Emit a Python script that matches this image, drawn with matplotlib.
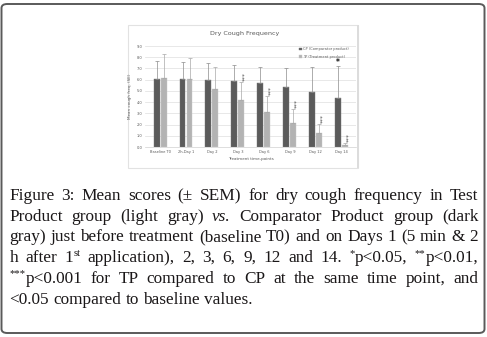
import re
import numpy as np
import matplotlib
matplotlib.use("Agg")
import matplotlib.pyplot as plt
from matplotlib.patches import Rectangle, FancyBboxPatch

# ---------------- data ----------------
categories = ["Baseline T0", "2h-Day 1", "Day 2", "Day 3", "Day 6", "Day 9", "Day 12", "Day 14"]
cp_mean = [6.09, 6.03, 6.00, 5.91, 5.67, 5.32, 4.93, 4.40]
cp_sem = [1.54, 1.51, 1.45, 1.37, 1.49, 1.75, 2.23, 2.82]
tp_mean = [6.18, 6.03, 5.14, 4.16, 3.15, 2.11, 1.28, 0.15]
tp_sem = [2.11, 1.93, 1.96, 1.63, 1.42, 1.28, 0.74, 0.21]
tp_sig = ["", "", "", "***", "***", "***", "***", "***"]
cp_sig = ["", "", "", "", "", "", "", "*"]
y_ticks = [0, 1, 2, 3, 4, 5, 6, 7, 8, 9]
series_labels = ["CP (Comparator product)", "TP (Treatment product)"]
chart_title = "Dry Cough Frequency"
x_label = "Treatment time-points"
y_label = "Mean cough freq. (SE)"

caption_lines = [
    "Figure 3: Mean scores (± SEM) for dry cough frequency in Test",
    "Product group (light gray) _i{vs.} Comparator Product group (dark",
    "gray) just before treatment (baseline T0) and on Days 1 (5 min & 2",
    "h after 1^{st} application), 2, 3, 6, 9, 12 and 14. ^{*}p<0.05, ^{**}p<0.01,",
    "^{***}p<0.001 for TP compared to CP at the same time point, and",
    "<0.05 compared to baseline values.",
]

W, H = 487, 337
fig = plt.figure(figsize=(W / 100, H / 100), dpi=100)
fig.patch.set_facecolor("white")

def fx(x):
    return x / W

def fy(y):
    return 1 - y / H

# outer rounded frame
frame = FancyBboxPatch((fx(1.5), fy(333)), fx(483), (329) / H,
                       boxstyle="round,pad=0,rounding_size=0.012",
                       transform=fig.transFigure, fill=False,
                       edgecolor="#5a5a5a", linewidth=1.4, zorder=-5)
fig.add_artist(frame)

# chart picture panel
panel = Rectangle((fx(128), fy(168)), fx(230), 143 / H, transform=fig.transFigure,
                  facecolor="white", edgecolor="#e2e2e2", linewidth=0.8, zorder=-10)
fig.add_artist(panel)
fig.add_artist(Rectangle((fx(357), fy(168)), fx(2), 143 / H, transform=fig.transFigure,
                         facecolor="#dcdcdc", edgecolor="none", zorder=-9))

# ---------------- chart ----------------
ax = fig.add_axes([fx(145), fy(147), 211 / W, 101 / H])
ax.set_zorder(1)
ax.set_facecolor("white")
x = np.arange(len(categories))
bw = 0.23
off = 0.135
dark = "#5b5b5b"
light = "#b3b3b3"
b1 = ax.bar(x - off, cp_mean, bw, color=dark, edgecolor="#777777", linewidth=0.3,
            label=series_labels[0], zorder=3)
b2 = ax.bar(x + off, tp_mean, bw, color=light, edgecolor="#c8c8c8", linewidth=0.3,
            label=series_labels[1], zorder=3)
ax.errorbar(x - off, cp_mean, yerr=[np.zeros(len(x)), cp_sem], fmt="none",
            ecolor="#8c8c8c", elinewidth=0.5, capsize=1.2, capthick=0.5, zorder=4)
ax.errorbar(x + off, tp_mean, yerr=[np.zeros(len(x)), tp_sem], fmt="none",
            ecolor="#a8a8a8", elinewidth=0.5, capsize=1.2, capthick=0.5, zorder=4)
for i in range(len(x)):
    if tp_sig[i]:
        ax.text(x[i] + off + 0.13, tp_mean[i] + tp_sem[i] + 0.1, tp_sig[i], rotation=90,
                ha="center", va="bottom", fontsize=4.2, color="#4a4a4a")
    if cp_sig[i]:
        ax.text(x[i] - off, cp_mean[i] + cp_sem[i] - 0.1, cp_sig[i],
                ha="center", va="bottom", fontsize=5.5, fontweight="bold", color="#111111")

ax.set_xlim(-0.58, 7.55)
ax.set_ylim(0, 9)
ax.set_yticks(y_ticks)
ax.set_yticklabels([f"{v:.1f}" for v in y_ticks])
ax.set_xticks(x)
ax.set_xticklabels(categories)
ax.tick_params(axis="both", length=0, labelsize=2.6, labelcolor="#595959", pad=2)
ax.grid(axis="y", color="#dedede", linewidth=0.5, zorder=0)
for s in ["top", "right", "left"]:
    ax.spines[s].set_visible(False)
ax.spines["bottom"].set_color("#d0d0d0")
ax.spines["bottom"].set_linewidth(0.5)
ax.set_xlabel(x_label, fontsize=3.0, color="#595959", labelpad=2)
ax.set_ylabel(y_label, fontsize=3.0, color="#595959", labelpad=3)
fig.text(fx(245), fy(34), chart_title, ha="center", va="center", fontsize=4.6, color="#595959")
ax.legend(handles=[b1, b2], loc="upper left", bbox_to_anchor=(0.725, 1.0), frameon=False,
          fontsize=2.6, labelcolor="#595959", handlelength=0.7, handleheight=0.7,
          handletextpad=0.3, labelspacing=0.9, borderaxespad=0.0)

# ---------------- caption (justified) ----------------
renderer = fig.canvas.get_renderer()
FAM = ["Liberation Serif", "DejaVu Serif"]
TXT = "#1a1718"

def parse_word(w):
    segs = []
    pos = 0
    for m in re.finditer(r"(\^|_i)\{([^}]*)\}", w):
        if m.start() > pos:
            segs.append((w[pos:m.start()], "n"))
        segs.append((m.group(2), "sup" if m.group(1) == "^" else "it"))
        pos = m.end()
    if pos < len(w):
        segs.append((w[pos:], "n"))
    return segs

def seg_props(kind, fs):
    if kind == "sup":
        return dict(fontsize=fs * 0.62, family=FAM, style="normal")
    if kind == "it":
        return dict(fontsize=fs, family=FAM, style="italic")
    return dict(fontsize=fs, family=FAM, style="normal")

def seg_w(s, kind, fs):
    t = fig.text(0, 0, s, **seg_props(kind, fs))
    w = t.get_window_extent(renderer).width
    t.remove()
    return w

def line_nat(words, fs):
    return [sum(seg_w(s, k, fs) for s, k in segs) for segs in words]

fs = 12.4
left, right = 9.3, 478.3
base0, lstep = 200.0, 20.7
space_w = seg_w("a a", "n", fs) - 2 * seg_w("a", "n", fs)
for li, line in enumerate(caption_lines):
    words = [parse_word(w) for w in line.split(" ")]
    widths = line_nat(words, fs)
    if li < len(caption_lines) - 1 and len(words) > 1:
        gap = (right - left - sum(widths)) / (len(words) - 1)
    else:
        gap = space_w
    xcur = left
    ybase = base0 + li * lstep
    for segs, ww in zip(words, widths):
        xs = xcur
        for s, k in segs:
            yy = ybase - (fs * 100 / 72) * 0.36 if k == "sup" else ybase
            fig.text(fx(xs), fy(yy), s, ha="left", va="baseline", color=TXT, **seg_props(k, fs))
            xs += seg_w(s, k, fs)
        xcur += ww + gap

fig.savefig("out.png", dpi=100, facecolor="white")
